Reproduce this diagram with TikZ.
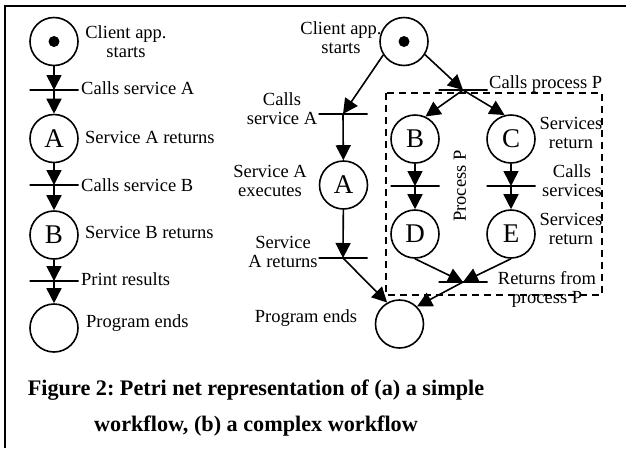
\documentclass[tikz,border=0pt]{standalone}
\usepackage{fontspec}
\setmainfont{Liberation Serif}
\usetikzlibrary{arrows.meta}
\begin{document}
\begin{tikzpicture}[x=1pt,y=-1pt,
  place/.style={circle, draw, line width=1.6pt, minimum size=48pt, inner sep=0pt,
    font=\fontsize{27}{27}\selectfont},
  bar/.style={draw, line width=1.5pt, minimum width=49pt, minimum height=0pt,
    inner sep=0pt, outer sep=0pt},
  arc/.style={line width=1.6pt, -{Triangle[length=15pt,width=15pt]}},
  lbl/.style={inner sep=0pt, font=\fontsize{18.5}{19}\selectfont, align=center},
  token/.style={circle, fill, minimum size=11pt, inner sep=0pt},
  boundary/.style={dash pattern=on 7pt off 5pt, line width=1.5pt},
  caption/.style={font=\frenchspacing\bfseries\fontsize{22.2}{36}\selectfont,
    align=center, inner sep=0pt}]
\useasboundingbox (0,0) rectangle (626,448);

% frame (top and left rules)
\draw[line width=2pt] (626,6) -- (5,6) -- (5,448);

% (a) simple workflow
\node[place] (s0) at (54,41.5) {};
\node[token] (s0tok) at (s0) {};
\node[bar] (t1) at (54,90) {};
\node[place] (pA) at (54,138.5) {A};
\node[bar] (t2) at (54,185) {};
\node[place] (pB) at (54,235) {B};
\node[bar] (t3) at (54,281) {};
\node[place] (pEnd) at (54,328) {};

\draw[arc] (s0) -- (t1.center);
\draw[arc] (t1.center) -- (pA);
\draw[arc] (pA) -- (t2.center);
\draw[arc] (t2.center) -- (pB);
\draw[arc] (pB) -- (t3.center);
\draw[arc] (t3.center) -- (pEnd);

\node[lbl] (ls0) at (126,42) {Client app.\\starts};
\node[lbl, anchor=west] (lt1) at (81,88) {Calls service A};
\node[lbl, anchor=west] (lpA) at (85,137) {Service A returns};
\node[lbl, anchor=west] (lt2) at (81,185) {Calls service B};
\node[lbl, anchor=west] (lpB) at (85,232) {Service B returns};
\node[lbl, anchor=west] (lt3) at (81,279) {Print results};
\node[lbl, anchor=west] (lpEnd) at (86,323) {Program ends};

% (b) complex workflow
\node[place] (r0) at (404,41.5) {};
\node[token] (r0tok) at (r0) {};
\node[bar] (rtA1) at (343,114) {};
\node[place] (rA) at (343.5,185) {A};
\node[bar] (rtA2) at (343,258) {};
\node[place] (rEnd) at (399.5,324) {};
\node[bar] (rtP) at (463,90) {};
\node[place] (rB) at (415,139) {B};
\node[place] (rC) at (511,139) {C};
\node[bar] (rtB) at (415,186) {};
\node[bar] (rtC) at (511,186) {};
\node[place] (rD) at (415,234) {D};
\node[place] (rE) at (511,234) {E};
\node[bar] (rtR) at (463,282) {};

\draw[arc] (r0.-147) -- (rtA1.center);
\draw[arc] (r0.-32) -- (rtP.center);
\draw[arc] (rtA1.center) -- (rA);
\draw[arc] (rA) -- (rtA2.center);
\draw[arc] (rtA2.center) -- (rEnd.120);
\draw[arc] (rtP.center) -- (rB.65);
\draw[arc] (rtP.center) -- (rC.105);
\draw[arc] (rB) -- (rtB.center);
\draw[arc] (rtB.center) -- (rD);
\draw[arc] (rC) -- (rtC.center);
\draw[arc] (rtC.center) -- (rE);
\draw[arc] (rD.south) -- (rtR.center);
\draw[arc] (rE.south) -- (rtR.center);
\draw[arc] (rtR.center) -- (rEnd.45);

% process P boundary
\draw[boundary] (386,93) rectangle (602,295);

\node[lbl] (lr0) at (341,38) {Client app.\\starts};
\node[lbl, anchor=west] (lrtP) at (489,84) {Calls process P};
\node[lbl] (lrtA1) at (282,109) {Calls\\service A};
\node[lbl] (lrA) at (270,181) {Service A\\executes};
\node[lbl] (lrtA2) at (283,252) {Service\\A returns};
\node[lbl] (lrEnd) at (306,318) {Program ends};
\node[lbl] (lrC) at (571,133) {Services\\return};
\node[lbl] (lrtC) at (572,181) {Calls\\services};
\node[lbl] (lrE) at (571,229) {Services\\return};
\node[lbl] (lrtR) at (547,289) {Returns from\\process P};
\node[lbl, rotate=90] (lproc) at (460,186) {Process P};

% caption
\node[caption] (cap) at (256,408) {Figure 2: Petri net representation of (a) a simple\\workflow, (b) a complex workflow};
\end{tikzpicture}
\end{document}
